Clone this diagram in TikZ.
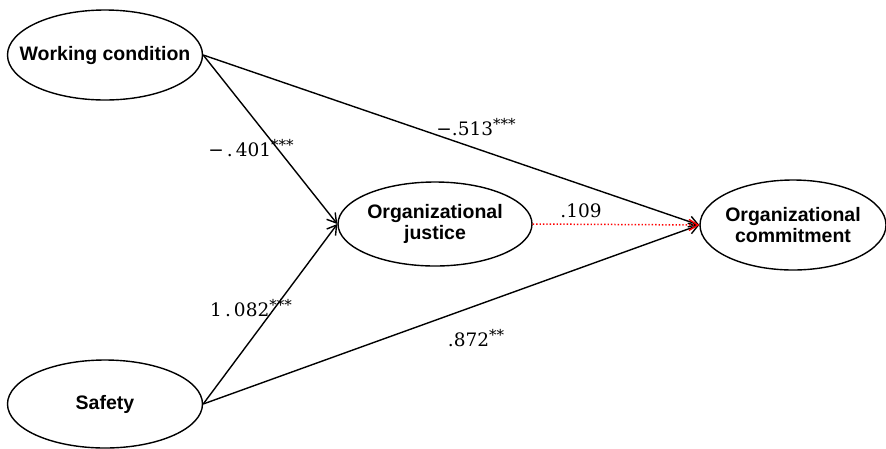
\documentclass[tikz,border=0pt]{standalone}
\usepackage{fontspec}
\setmainfont{DejaVu Serif}
\setsansfont{Liberation Sans}
\usetikzlibrary{shapes.geometric,arrows.meta}
\newcommand{\stars}[1]{\raisebox{6pt}{\fontsize{15}{15}\selectfont #1}}
\begin{document}
\begin{tikzpicture}[x=1pt,y=-1pt,
  var/.style={ellipse,draw,line width=1.4pt,inner sep=0pt},
  vtext/.style={align=center,inner sep=0pt,font=\sffamily\bfseries\fontsize{19.5}{21}\selectfont},
  path/.style={line width=1.4pt,-{Straight Barb[length=9pt,width=11pt,line width=1.4pt]}},
  coef/.style={font=\fontsize{18.5}{20}\selectfont,inner sep=0pt}]
\useasboundingbox (0,0) rectangle (886,448);
\clip (0,0) rectangle (886,448);
\node[var,minimum width=195pt,minimum height=90pt,label={[vtext]center:Working condition}] (wc) at (105,55) {};
\node[var,minimum width=194pt,minimum height=84pt,label={[vtext]center:Organizational\\justice}] (oj) at (435,224) {};
\node[var,minimum width=186pt,minimum height=90pt,label={[vtext]center:Organizational\\commitment}] (oc) at (793,225) {};
\node[var,minimum width=195pt,minimum height=88pt,label={[vtext]center:Safety}] (sf) at (105,404) {};
\draw[path] (wc.east) -- (oj.west);
\draw[path] (wc.east) -- (oc.west);
\draw[path] (sf.east) -- (oj.west);
\draw[path] (sf.east) -- (oc.west);
\draw[path,red,dotted,line width=1.5pt] (oj.east) -- (oc.west);
\node[coef] (c1) at (251,148) {−\,.\,401\stars{***}};
\node[coef] (c2) at (476,127) {−.513\stars{***}};
\node[coef] (c3) at (581,211) {.109};
\node[coef] (c4) at (251,308) {1\,.\,082\stars{***}};
\node[coef] (c5) at (476,338) {.872\stars{**}};
\end{tikzpicture}
\end{document}
